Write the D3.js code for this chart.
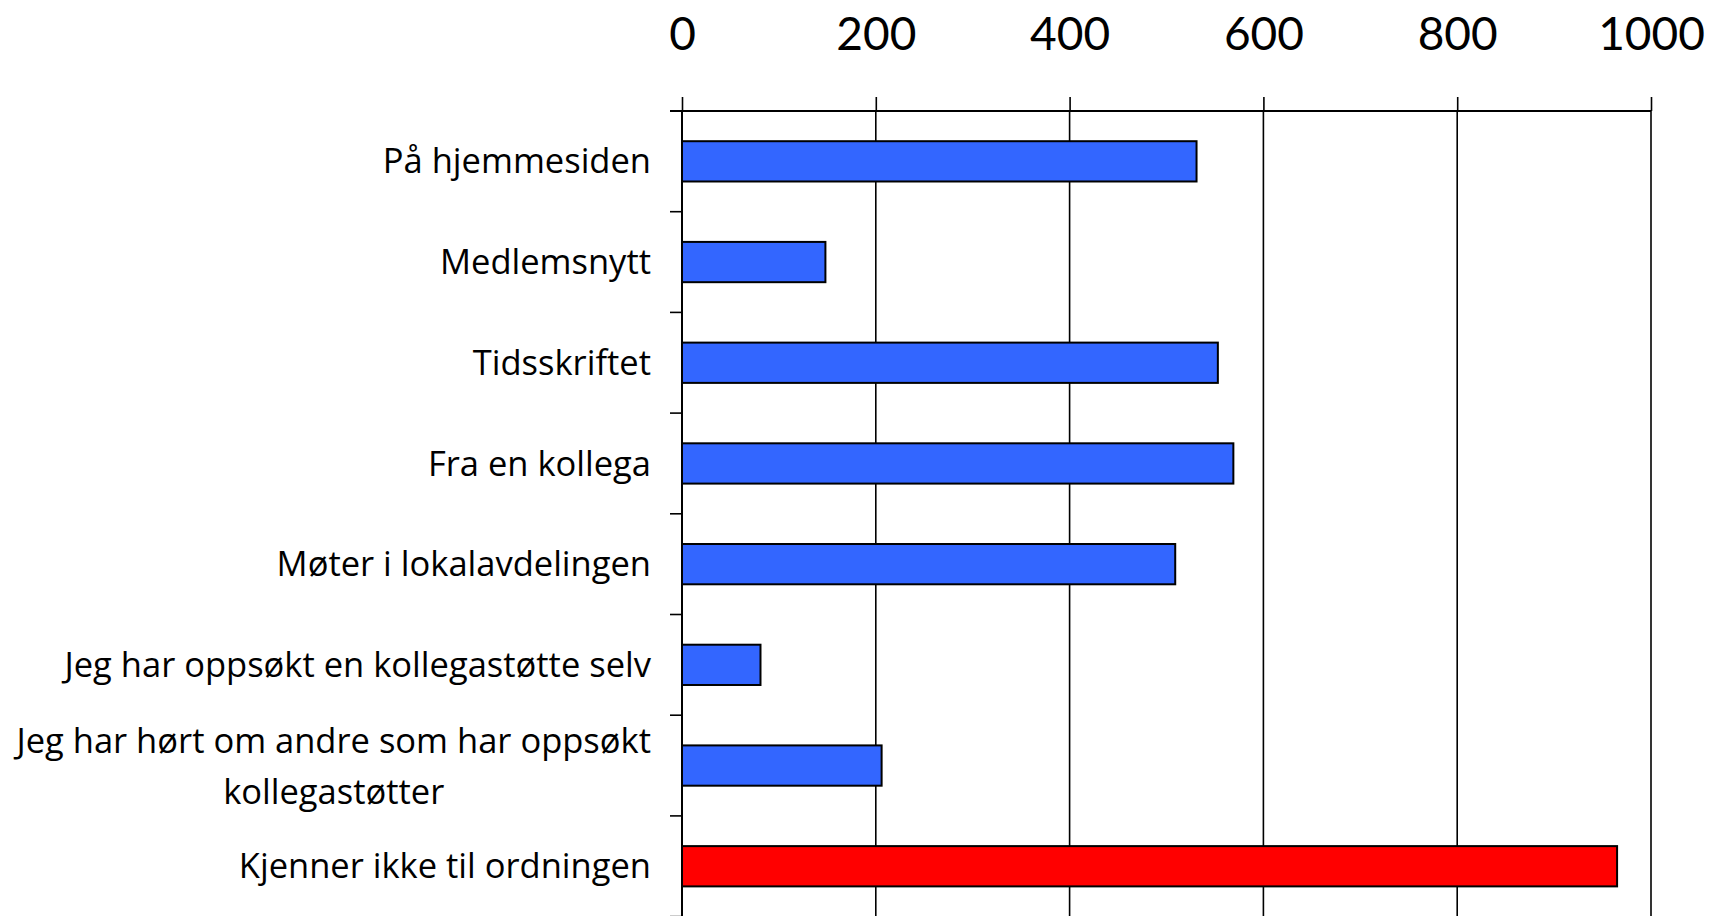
<!DOCTYPE html>
<html>
<head>
<meta charset="utf-8">
<script src="https://cdn.jsdelivr.net/npm/d3@7"></script>
<style>
  html, body { margin: 0; padding: 0; background: #fff; }
  svg { display: block; }
</style>
</head>
<body>
<svg id="chart" width="1710" height="916"></svg>
<script>
const categories = [
  "På hjemmesiden",
  "Medlemsnytt",
  "Tidsskriftet",
  "Fra en kollega",
  "Møter i lokalavdelingen",
  "Jeg har oppsøkt en kollegastøtte selv",
  "Jeg har hørt om andre som har oppsøkt kollegastøtter",
  "Kjenner ikke til ordningen"
];
const values = [531, 148, 553, 569, 509, 81, 206, 965];
const barColors = ["#3366FF", "#3366FF", "#3366FF", "#3366FF", "#3366FF", "#3366FF", "#3366FF", "#FF0000"];
const tickValues = [0, 200, 400, 600, 800, 1000];
const labelLines = {
  "Jeg har hørt om andre som har oppsøkt kollegastøtter": ["Jeg har hørt om andre som har oppsøkt", "kollegastøtter"]
};

(function () {
const svg = d3.select("#chart");
const mLeft = 682, mRight = 1651, mTop = 111, bandH = 100.7;
const mBottom = mTop + bandH * categories.length;

const x = d3.scaleLinear().domain([0, 1000]).range([mLeft, mRight]);
const y = d3.scaleBand().domain(categories).range([mTop, mBottom]).paddingInner(0.6).paddingOuter(0.3);

const tickFont = "Lato, 'Open Sans', sans-serif";
const catFont = "'Open Sans', Lato, sans-serif";
const catSize = "34.5px";

// gridlines
svg.append("g")
  .selectAll("line")
  .data(tickValues.filter(d => d > 0))
  .join("line")
  .attr("x1", d => x(d)).attr("x2", d => x(d))
  .attr("y1", mTop).attr("y2", mBottom)
  .attr("stroke", "#000").attr("stroke-width", 1.6);

// top axis
const xAxis = svg.append("g")
  .attr("transform", `translate(0,${mTop})`)
  .call(d3.axisTop(x).tickValues(tickValues).tickSize(14).tickPadding(47).tickFormat(d3.format("d")));
xAxis.select(".domain").remove();
xAxis.append("line")
  .attr("x1", mLeft - 12).attr("x2", mRight).attr("y1", 0).attr("y2", 0)
  .attr("stroke", "#000").attr("stroke-width", 2);
xAxis.selectAll(".tick line").attr("stroke", "#000").attr("stroke-width", 1.6);
xAxis.selectAll(".tick text")
  .attr("fill", "#000")
  .style("font-family", tickFont)
  .style("font-size", "46px");

// bars
svg.append("g")
  .selectAll("rect")
  .data(categories)
  .join("rect")
  .attr("x", x(0))
  .attr("y", d => y(d))
  .attr("width", (d, i) => x(values[i]) - x(0))
  .attr("height", y.bandwidth())
  .attr("fill", (d, i) => barColors[i])
  .attr("stroke", "#000")
  .attr("stroke-width", 2);

// y axis line and band ticks
const yG = svg.append("g");
yG.append("line")
  .attr("x1", mLeft).attr("x2", mLeft).attr("y1", mTop).attr("y2", mBottom)
  .attr("stroke", "#000").attr("stroke-width", 2);
yG.selectAll("line.bt")
  .data(d3.range(categories.length + 1))
  .join("line")
  .attr("class", "bt")
  .attr("x1", mLeft - 12).attr("x2", mLeft)
  .attr("y1", i => mTop + i * y.step()).attr("y2", i => mTop + i * y.step())
  .attr("stroke", "#000").attr("stroke-width", 1.6);

// category labels
const labelX = 651;
const lineH = 51;
const lbl = yG.selectAll("text.cat")
  .data(categories)
  .join("text")
  .attr("class", "cat")
  .attr("text-anchor", "end")
  .style("font-family", catFont)
  .style("font-size", catSize)
  .attr("fill", "#000");

lbl.each(function(d) {
  const t = d3.select(this);
  const lines = labelLines[d] || [d];
  const cy = y(d) + y.bandwidth() / 2;
  const n = lines.length;
  if (n === 1) {
    t.append("tspan").attr("x", labelX).attr("y", cy).attr("dy", "0.35em").text(lines[0]);
  } else {
    t.attr("text-anchor", "middle");
    const tmp = svg.append("text").style("font-family", catFont).style("font-size", catSize).text(lines[0]);
    const w = tmp.node().getComputedTextLength();
    tmp.remove();
    const cx = labelX - w / 2;
    lines.forEach((ln, k) => {
      t.append("tspan").attr("x", cx)
        .attr("y", cy + (k - (n - 1) / 2) * lineH + 1)
        .attr("dy", "0.35em").text(ln);
    });
  }
});
})();
</script>
</body>
</html>
